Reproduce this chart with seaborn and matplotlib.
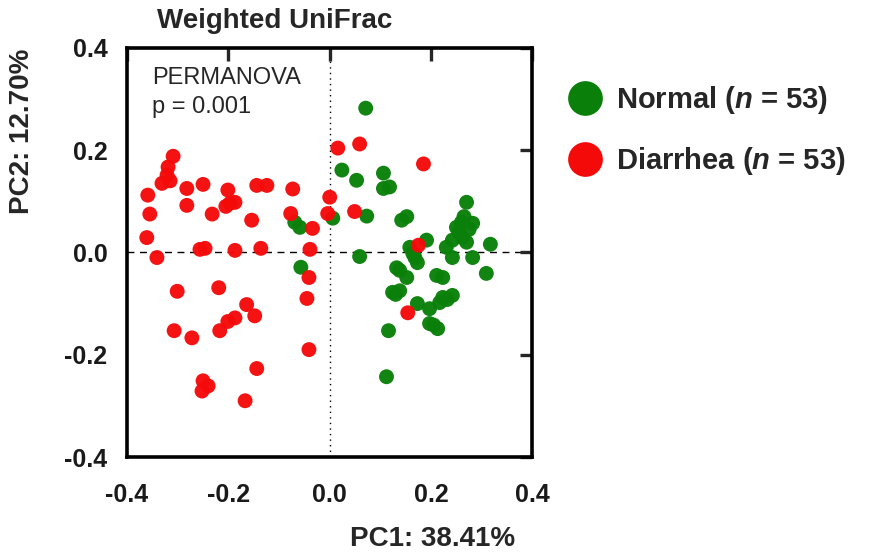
import pandas as pd
import matplotlib
matplotlib.use("Agg")
import matplotlib.pyplot as plt
import seaborn as sns

# PCoA coordinates
normal_pc1 = [-0.069, -0.059, -0.057, 0.006, 0.024, 0.071, 0.053, 0.106, 0.106, 0.118,
              0.073, 0.059, 0.142, 0.152, 0.270, 0.250, 0.260, 0.282, 0.262, 0.242,
              0.270, 0.317, 0.158, 0.164, 0.191, 0.230, 0.282, 0.242, 0.173, 0.309,
              0.138, 0.152, 0.211, 0.223, 0.124, 0.138, 0.173, 0.197, 0.217, 0.242,
              0.223, 0.197, 0.213, 0.116, 0.112, 0.255, 0.275, 0.130, 0.232, 0.168,
              0.205, 0.132, 0.265]
normal_pc2 = [0.059, 0.049, -0.029, 0.067, 0.161, 0.282, 0.141, 0.155, 0.125, 0.128,
              0.071, -0.008, 0.063, 0.070, 0.098, 0.049, 0.059, 0.057, 0.029, 0.024,
              0.020, 0.016, 0.010, -0.002, 0.024, 0.010, -0.010, -0.010, -0.020, -0.041,
              -0.035, -0.049, -0.045, -0.049, -0.078, -0.075, -0.100, -0.110, -0.098, -0.084,
              -0.088, -0.139, -0.149, -0.153, -0.243, 0.040, 0.045, -0.082, -0.092, -0.010,
              -0.142, -0.030, 0.070]

diarrhea_pc1 = [-0.309, -0.319, -0.321, -0.331, -0.315, -0.359, -0.355, -0.361, -0.341, -0.282,
                -0.250, -0.282, -0.232, -0.201, -0.197, -0.187, -0.256, -0.246, -0.187, -0.136,
                -0.144, -0.124, -0.154, -0.073, -0.077, -0.034, -0.039, 0.000, -0.004, 0.016,
                0.059, 0.049, 0.185, 0.175, 0.154, -0.041, -0.045, -0.041, -0.301, -0.219,
                -0.164, -0.148, -0.187, -0.201, -0.217, -0.307, -0.272, -0.144, -0.250, -0.240,
                -0.252, -0.167, -0.205]
diarrhea_pc2 = [0.188, 0.167, 0.151, 0.135, 0.140, 0.112, 0.075, 0.029, -0.010, 0.125,
                0.133, 0.092, 0.075, 0.122, 0.096, 0.098, 0.006, 0.008, 0.004, 0.008,
                0.131, 0.131, 0.063, 0.124, 0.076, 0.047, 0.006, 0.108, 0.076, 0.204,
                0.212, 0.080, 0.173, 0.014, -0.118, -0.049, -0.090, -0.190, -0.076, -0.069,
                -0.102, -0.124, -0.128, -0.135, -0.153, -0.153, -0.167, -0.227, -0.251, -0.261,
                -0.271, -0.290, 0.090]

labels = ["Normal ($\\mathit{n}$ = 53)", "Diarrhea ($\\mathit{n}$ = 53)"]
ticks = [-0.4, -0.2, 0.0, 0.2, 0.4]

df = pd.DataFrame({
    "PC1": normal_pc1 + diarrhea_pc1,
    "PC2": normal_pc2 + diarrhea_pc2,
    "Group": [labels[0]] * len(normal_pc1) + [labels[1]] * len(diarrhea_pc1),
})

sns.set_style("white")
plt.rcParams["font.family"] = ["Liberation Sans", "DejaVu Sans"]
plt.rcParams["mathtext.fontset"] = "custom"
plt.rcParams["mathtext.it"] = "Liberation Sans:italic:bold"
plt.rcParams["mathtext.rm"] = "Liberation Sans:bold"

fig = plt.figure(figsize=(8.7, 5.56), dpi=100)
ax = fig.add_axes([0.146, 0.178, 0.466, 0.736])

ax.axhline(0, color="black", lw=1, ls=(0, (5, 4)), zorder=0)
ax.axvline(0, color="black", lw=1, ls=(0, (1, 3)), zorder=0)

palette = {labels[0]: "#0a800a", labels[1]: "#f50a0a"}
sns.scatterplot(data=df, x="PC1", y="PC2", hue="Group", palette=palette,
                s=115, linewidth=0, alpha=0.97, ax=ax, legend=False)

ax.set_xlim(-0.4, 0.4)
ax.set_ylim(-0.4, 0.4)
ax.set_xticks(ticks)
ax.set_yticks(ticks)
ax.set_xticklabels([f"{t:.1f}" for t in ticks], fontsize=18, fontweight="bold", color="#1a1a1a")
ax.set_yticklabels([f"{t:.1f}" for t in ticks], fontsize=18, fontweight="bold", color="#1a1a1a")
ax.tick_params(direction="out", length=10, width=2.4)
ax.tick_params(axis="x", pad=9)
ax.tick_params(axis="y", pad=4)
for sp in ax.spines.values():
    sp.set_linewidth(2.6)
    sp.set_color("black")

# mirrored inner ticks on top and right
top = ax.secondary_xaxis("top")
top.set_xticks(ticks)
top.set_xticklabels([])
top.tick_params(direction="in", length=9, width=2.4)
right = ax.secondary_yaxis("right")
right.set_yticks(ticks)
right.set_yticklabels([])
right.tick_params(direction="in", length=9, width=2.4)

ax.set_xlabel("PC1: 38.41%", fontsize=20, fontweight="bold")
ax.set_ylabel("PC2: 12.70%", fontsize=20, fontweight="bold")
ax.xaxis.set_label_coords(0.753, -0.168)
ax.yaxis.set_label_coords(-0.226, 0.795)

ax.text(0.062, 0.952, "PERMANOVA\np = 0.001", transform=ax.transAxes,
        fontsize=17, va="top", ha="left", linespacing=1.4)

fig.text(0.316, 0.962, "Weighted UniFrac", fontsize=20, fontweight="bold",
         ha="center", va="center")

handles = [plt.Line2D([], [], marker="o", ls="", markersize=25,
                      markerfacecolor=palette[lab], markeredgewidth=0)
           for lab in labels]
ax.legend(handles=handles, labels=labels, loc="upper left",
          bbox_to_anchor=(0.994, 0.975), frameon=False, handletextpad=0.05,
          labelspacing=0.98, prop={"size": 21, "weight": "bold"})

fig.savefig("out.png", dpi=100)
